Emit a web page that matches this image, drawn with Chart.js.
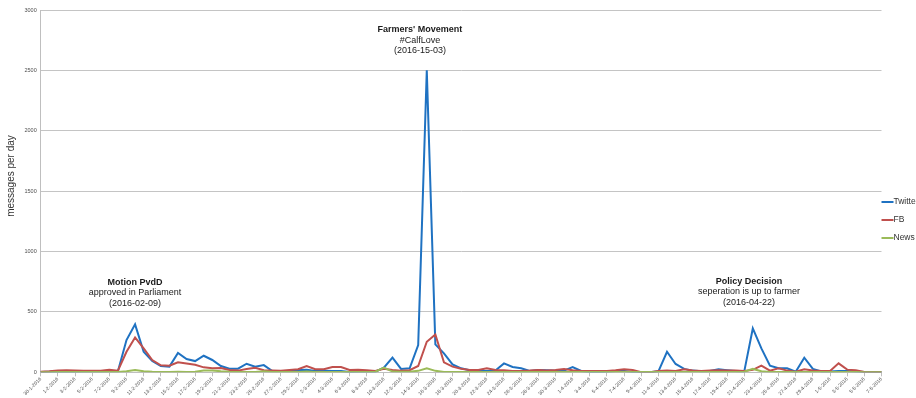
<!DOCTYPE html>
<html>
<head>
<meta charset="utf-8">
<title>Messages per day</title>
<script src="https://cdn.jsdelivr.net/npm/chart.js@4.4.1/dist/chart.umd.min.js"></script>
<style>
  html, body { margin: 0; padding: 0; background: #ffffff; overflow: hidden; }
  #wrap { width: 916px; height: 398px; position: relative; }
</style>
</head>
<body>
<div id="wrap"><canvas id="c"></canvas></div>
<script>
// Days on the x axis (d-m-yyyy)
const dates = [
  '30-1-2016','31-1-2016',
  '1-2-2016','2-2-2016','3-2-2016','4-2-2016','5-2-2016','6-2-2016','7-2-2016','8-2-2016','9-2-2016','10-2-2016',
  '11-2-2016','12-2-2016','13-2-2016','14-2-2016','15-2-2016','16-2-2016','17-2-2016','18-2-2016','19-2-2016','20-2-2016',
  '21-2-2016','22-2-2016','23-2-2016','24-2-2016','25-2-2016','26-2-2016','27-2-2016','28-2-2016','29-2-2016',
  '1-3-2016','2-3-2016','3-3-2016','4-3-2016','5-3-2016','6-3-2016','7-3-2016','8-3-2016','9-3-2016','10-3-2016',
  '11-3-2016','12-3-2016','13-3-2016','14-3-2016','15-3-2016','16-3-2016','17-3-2016','18-3-2016','19-3-2016','20-3-2016',
  '21-3-2016','22-3-2016','23-3-2016','24-3-2016','25-3-2016','26-3-2016','27-3-2016','28-3-2016','29-3-2016','30-3-2016','31-3-2016',
  '1-4-2016','2-4-2016','3-4-2016','4-4-2016','5-4-2016','6-4-2016','7-4-2016','8-4-2016','9-4-2016','10-4-2016',
  '11-4-2016','12-4-2016','13-4-2016','14-4-2016','15-4-2016','16-4-2016','17-4-2016','18-4-2016','19-4-2016','20-4-2016',
  '21-4-2016','22-4-2016','23-4-2016','24-4-2016','25-4-2016','26-4-2016','27-4-2016','28-4-2016','29-4-2016','30-4-2016',
  '1-5-2016','2-5-2016','3-5-2016','4-5-2016','5-5-2016','6-5-2016','7-5-2016'
];

// Messages per day, one value per date
const twitter = [
  3,4,5,5,5,6,6,7,8,8,
  267,397,170,93,52,47,160,110,93,137,
  102,52,30,30,71,47,60,11,10,10,
  20,22,10,12,10,10,2,5,5,5,
  38,121,28,33,226,2500,231,157,66,33,
  17,11,11,14,74,44,33,11,20,17,
  12,14,44,11,2,2,5,10,10,2,
  0,0,8,170,69,28,14,8,10,25,
  17,10,6,363,198,55,33,33,5,121,
  28,6,6,10,10,6,2,1,1
];
const fb = [
  5,8,14,16,14,13,13,13,22,13,
  170,289,198,102,58,55,83,72,62,41,
  33,36,20,14,28,38,17,14,12,20,
  25,52,25,25,44,44,20,22,17,11,
  30,20,12,17,52,253,314,83,47,30,
  20,20,33,20,17,11,11,14,20,14,
  20,28,17,11,11,11,11,17,25,20,
  1,1,11,14,11,25,14,11,14,17,
  14,14,11,20,55,14,33,14,5,25,
  14,11,11,74,22,17,2,1,1
];
const news = [
  1,1,2,2,2,2,2,3,3,3,
  8,18,8,4,3,3,4,3,5,15,
  15,8,4,3,3,3,8,3,2,2,
  3,6,3,3,3,3,2,2,2,5,
  38,6,4,4,12,33,12,3,2,2,
  2,2,2,2,2,2,2,2,2,2,
  2,2,2,2,2,2,2,2,2,2,
  2,2,2,2,2,2,2,2,2,2,
  2,2,4,28,8,3,2,2,2,2,
  2,2,2,2,2,2,1,1,1
];

const seriesNames = ['Twitter', 'FB', 'News'];
const seriesColors = ['#1f72c2', '#c0504d', '#9bbb59'];
const yTicks = [0, 500, 1000, 1500, 2000, 2500, 3000];
const yTitle = 'messages per day';

// Event notes: anchored at (day index, message level), first line bold
const notes = [
  { day: 11.0, level: 744, lines: ['Motion PvdD', 'approved in Parliament', '(2016-02-09)'] },
  { day: 44.2, level: 2835, lines: ["Farmers' Movement", '#CalfLove', '(2016-15-03)'] },
  { day: 82.55, level: 755, lines: ['Policy Decision', 'seperation is up to farmer', '(2016-04-22)'] }
];

const FONT = "'Liberation Sans', Arial, sans-serif";

const overlay = {
  id: 'overlay',
  afterDraw(chart) {
    const ctx = chart.ctx;
    const xs = chart.scales.x, ys = chart.scales.y;
    ctx.save();

    // event notes
    ctx.textAlign = 'center';
    ctx.textBaseline = 'middle';
    ctx.fillStyle = '#1a1a1a';
    notes.forEach(n => {
      const cx = xs.getPixelForValue(n.day);
      const cy = ys.getPixelForValue(n.level);
      n.lines.forEach((t, k) => {
        ctx.font = (k === 0 ? 'bold ' : '') + '9px ' + FONT;
        ctx.fillText(t, cx, cy + k * 10.5);
      });
    });

    // y axis title
    ctx.save();
    ctx.translate(11, 176);
    ctx.rotate(-Math.PI / 2);
    ctx.font = '10px ' + FONT;
    ctx.fillStyle = '#333333';
    ctx.fillText(yTitle, 0, 0);
    ctx.restore();

    // legend to the right of the plot
    const lx = chart.chartArea.right;
    ctx.textAlign = 'left';
    ctx.font = '8.5px ' + FONT;
    chart.data.datasets.forEach((ds, k) => {
      const y = 202 + k * 18;
      ctx.strokeStyle = ds.borderColor;
      ctx.lineWidth = 2;
      ctx.beginPath();
      ctx.moveTo(lx, y);
      ctx.lineTo(lx + 12, y);
      ctx.stroke();
      ctx.fillStyle = '#333333';
      ctx.fillText(ds.label, lx + 12, y);
    });
    ctx.restore();
  }
};

const seriesData = [twitter, fb, news];

new Chart(document.getElementById('c'), {
  type: 'line',
  data: {
    labels: dates,
    datasets: seriesNames.map((name, k) => ({
      label: name,
      data: seriesData[k],
      borderColor: seriesColors[k],
      backgroundColor: seriesColors[k],
      borderWidth: 2,
      pointRadius: 0,
      tension: 0,
      fill: false,
      order: 2 - k
    }))
  },
  options: {
    responsive: true,
    maintainAspectRatio: false,
    animation: false,
    devicePixelRatio: 1,
    layout: { padding: { top: 10, right: 34.5, bottom: 0, left: 0 } },
    plugins: {
      legend: { display: false },
      tooltip: { enabled: false },
      title: { display: false }
    },
    scales: {
      x: {
        type: 'category',
        offset: false,
        grid: { drawOnChartArea: false, drawTicks: true, tickLength: 4, color: '#bfbfbf' },
        border: { color: '#bfbfbf' },
        ticks: {
          autoSkip: false,
          minRotation: 45,
          maxRotation: 45,
          padding: 0,
          color: '#4d4d4d',
          font: { size: 5, family: FONT },
          callback: (v, i) => (i % 2 === 0 ? dates[i] : null)
        },
        afterFit: s => { s.height = 25.7; }
      },
      y: {
        min: 0,
        max: 3000,
        afterBuildTicks: s => { s.ticks = yTicks.map(v => ({ value: v })); },
        grid: { color: '#c4c4c4', drawTicks: false },
        border: { color: '#bfbfbf' },
        ticks: {
          padding: 4,
          color: '#4d4d4d',
          font: { size: 5.5, family: FONT },
          callback: v => String(v)
        },
        afterFit: s => { s.width = 40.7; }
      }
    }
  },
  plugins: [overlay]
});
</script>
</body>
</html>
